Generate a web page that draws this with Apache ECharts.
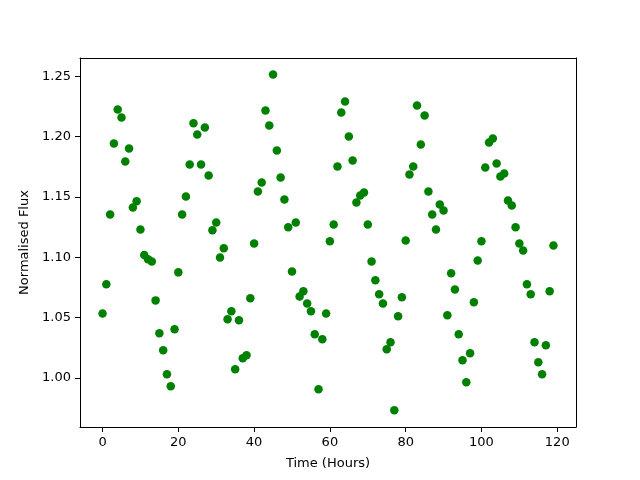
<!DOCTYPE html>
<html>
<head>
<meta charset="utf-8">
<script src="https://cdn.jsdelivr.net/npm/echarts@6/dist/echarts.min.js"></script>
<style>
  html, body { margin: 0; padding: 0; background: #fff; }
  #chart { width: 640px; height: 480px; }
</style>
</head>
<body>
<div id="chart"></div>
<script>
// hourly flux readings, hour 0..119
const hours = Array.from({ length: 120 }, (_, i) => i)
const flux = [
  1.0535, 1.0776, 1.1355, 1.1943, 1.2224, 1.2158, 1.1794, 1.1901, 1.1413, 1.1465,
  1.1231, 1.1018, 1.0983, 1.0966, 1.0643, 1.0370, 1.0229, 1.0031, 0.9931, 1.0403,
  1.0875, 1.1355, 1.1504, 1.1769, 1.2111, 1.2017, 1.1769, 1.2075, 1.1678, 1.1223,
  1.1289, 1.0999, 1.1074, 1.0486, 1.0552, 1.0072, 1.0478, 1.0163, 1.0188, 1.0660,
  1.1115, 1.1545, 1.1620, 1.2216, 1.2092, 1.2514, 1.1885, 1.1661, 1.1479, 1.1248,
  1.0883, 1.1289, 1.0676, 1.0718, 1.0618, 1.0552, 1.0362, 0.9906, 1.0320, 1.0535,
  1.1132, 1.1272, 1.1752, 1.2199, 1.2290, 1.2001, 1.1802, 1.1454, 1.1512, 1.1537,
  1.1272, 1.0966, 1.0809, 1.0693, 1.0618, 1.0238, 1.0296, 0.9733, 1.0511, 1.0668,
  1.1140, 1.1686, 1.1752, 1.2257, 1.1935, 1.2174, 1.1545, 1.1355, 1.1231, 1.1438,
  1.1388, 1.0519, 1.0867, 1.0734, 1.0362, 1.0147, 0.9964, 1.0204, 1.0627, 1.0974,
  1.1132, 1.1744, 1.1951, 1.1984, 1.1777, 1.1670, 1.1695, 1.1471, 1.1430, 1.1248,
  1.1115, 1.1057, 1.0776, 1.0693, 1.0296, 1.0130, 1.0031, 1.0271, 1.0718, 1.1098
]
const xTicks = [0, 20, 40, 60, 80, 100, 120]
const yTicks = [1.00, 1.05, 1.10, 1.15, 1.20, 1.25]
const xRange = [-5.95, 124.95]
const yRange = [0.9594, 1.2651]

const chart = echarts.init(document.getElementById('chart'))

const lineStyle = { color: '#000', width: 1 }
const labelFont = { color: '#000', fontFamily: 'DejaVu Sans', fontSize: 13 }

// plain frame axes for the top and right spines
const frameAxis = (position, range) => ({
  type: 'value',
  position,
  min: range[0],
  max: range[1],
  axisLine: { show: true, onZero: false, lineStyle },
  axisTick: { show: false },
  axisLabel: { show: false },
  splitLine: { show: false },
})

chart.setOption({
  animation: false,
  backgroundColor: '#fff',
  grid: { left: 80, right: 64, top: 58, bottom: 53 },
  xAxis: [
    {
      type: 'value',
      position: 'bottom',
      min: xRange[0],
      max: xRange[1],
      name: 'Time (Hours)',
      nameLocation: 'middle',
      nameGap: 30,
      nameTextStyle: labelFont,
      axisLine: { show: true, onZero: false, lineStyle },
      axisTick: { show: true, length: 5, customValues: xTicks, lineStyle },
      axisLabel: { customValues: xTicks, margin: 9, ...labelFont },
      splitLine: { show: false },
    },
    frameAxis('top', xRange),
  ],
  yAxis: [
    {
      type: 'value',
      position: 'left',
      min: yRange[0],
      max: yRange[1],
      name: 'Normalised Flux',
      nameLocation: 'middle',
      nameGap: 46,
      nameTextStyle: labelFont,
      axisLine: { show: true, onZero: false, lineStyle },
      axisTick: { show: true, length: 5, customValues: yTicks, lineStyle },
      axisLabel: {
        customValues: yTicks,
        formatter: (v) => v.toFixed(2),
        margin: 9,
        ...labelFont,
      },
      splitLine: { show: false },
    },
    frameAxis('right', yRange),
  ],
  series: [{
    type: 'scatter',
    data: hours.map((h, i) => [h, flux[i]]),
    symbol: 'circle',
    symbolSize: 8.5,
    itemStyle: { color: '#008000', opacity: 1 },
  }],
})
</script>
</body>
</html>
